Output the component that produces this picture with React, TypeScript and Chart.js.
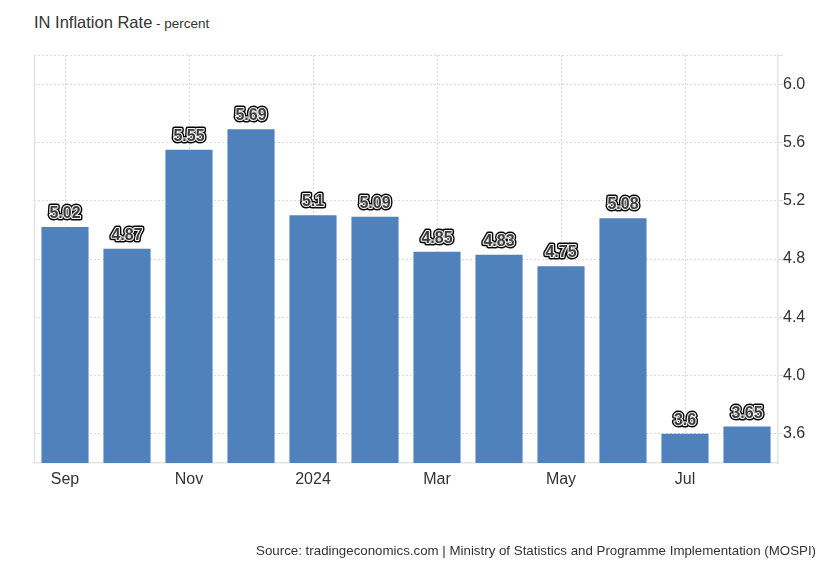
import React, { useEffect, useRef } from "react";
import { Chart, registerables } from "chart.js";

Chart.register(...registerables);

const months = ["Sep", "Oct", "Nov", "Dec", "2024", "Feb", "Mar", "Apr", "May", "Jun", "Jul", "Aug"];
const shownLabels = ["Sep", "", "Nov", "", "2024", "", "Mar", "", "May", "", "Jul", ""];
const inflation = [5.02, 4.87, 5.55, 5.69, 5.1, 5.09, 4.85, 4.83, 4.75, 5.08, 3.6, 3.65];
const valueLabels = ["5.02", "4.87", "5.55", "5.69", "5.1", "5.09", "4.85", "4.83", "4.75", "5.08", "3.6", "3.65"];
const yTicks = [3.6, 4.0, 4.4, 4.8, 5.2, 5.6, 6.0, 6.2];

const FONT = "'Liberation Sans', Arial, sans-serif";

const labelPlugin = {
  id: "valueLabels",
  afterDatasetsDraw(chart: any) {
    const ctx = chart.ctx;
    const meta = chart.getDatasetMeta(0);
    ctx.save();
    ctx.font = `bold 16px ${FONT}`;
    ctx.textAlign = "center";
    ctx.textBaseline = "alphabetic";
    ctx.lineJoin = "round";
    meta.data.forEach((bar: any, i: number) => {
      const x = bar.x;
      const y = bar.y - 9;
      const t = valueLabels[i];
      ctx.strokeStyle = "#000";
      ctx.lineWidth = 5;
      ctx.strokeText(t, x, y);
      ctx.strokeStyle = "#f4f4f4";
      ctx.lineWidth = 2.2;
      ctx.strokeText(t, x, y);
      ctx.fillStyle = "#3a3a3a";
      ctx.fillText(t, x, y);
    });
    ctx.restore();
  },
  beforeDatasetsDraw(chart: any) {
    const { ctx, chartArea } = chart;
    ctx.save();
    ctx.strokeStyle = "#e3e3e3";
    ctx.lineWidth = 1.5;
    ctx.beginPath();
    ctx.moveTo(chartArea.left + 0.5, chartArea.top);
    ctx.lineTo(chartArea.left + 0.5, chartArea.bottom);
    ctx.stroke();
    ctx.restore();
  },
};

export default function App() {
  const ref = useRef<HTMLCanvasElement>(null);

  useEffect(() => {
    if (!ref.current) return;
    const chart = new Chart(ref.current, {
      type: "bar",
      data: {
        labels: months,
        datasets: [
          {
            data: inflation,
            backgroundColor: "#4f81bd",
            borderWidth: 0,
            barPercentage: 0.76,
            categoryPercentage: 1,
          },
        ],
      },
      options: {
        animation: false,
        responsive: false,
        maintainAspectRatio: false,
        layout: { padding: { left: 34, top: 55, right: 0, bottom: 74 } },
        plugins: { legend: { display: false }, tooltip: { enabled: false }, title: { display: false } },
        scales: {
          x: {
            offset: true,
            afterFit: (s: any) => {
              s.height = 30;
            },
            grid: {
              offset: false,
              drawTicks: false,
              color: (c: any) => (c.index % 2 === 0 ? "#dcdcdc" : "rgba(0,0,0,0)"),
            } as any,
            border: { color: "#e3e3e3", width: 1.5, dash: [2, 2] } as any,
            ticks: {
              autoSkip: false,
              maxRotation: 0,
              padding: 7,
              color: "#333",
              font: { family: FONT, size: 16 },
              callback: (_v: any, i: number) => shownLabels[i],
            },
          },
          y: {
            position: "right",
            min: 3.4,
            max: 6.2,
            afterFit: (s: any) => {
              s.width = 52;
            },
            afterBuildTicks: (s: any) => {
              s.ticks = yTicks.map((v) => ({ value: v }));
            },
            grid: {
              color: "#dcdcdc",
              tickLength: 5,
              tickColor: "#dcdcdc",
            },
            border: { color: "#e3e3e3", width: 1.5, dash: [2, 2] } as any,
            ticks: {
              padding: 0,
              color: "#333",
              font: { family: FONT, size: 16 },
              callback: (v: any) => (Math.abs(v - 6.2) < 1e-6 ? "" : Number(v).toFixed(1)),
            },
          },
        },
      },
      plugins: [labelPlugin],
    });
    return () => chart.destroy();
  }, []);

  return (
    <div style={{ position: "absolute", left: 0, top: 0, width: 830, height: 567, background: "#fff", fontFamily: FONT }}>
      <div style={{ position: "absolute", left: 34, top: 13, color: "#333", whiteSpace: "nowrap" }}>
        <span style={{ fontSize: 16.5 }}>IN Inflation Rate</span>
        <span style={{ fontSize: 13.5 }}> - percent</span>
      </div>
      <canvas ref={ref} width={830} height={567} style={{ position: "absolute", left: 0, top: 0 }} />
      <div
        style={{
          position: "absolute",
          right: 14,
          top: 543,
          fontSize: 13.3,
          color: "#333",
          whiteSpace: "nowrap",
        }}
      >
        Source: tradingeconomics.com | Ministry of Statistics and Programme Implementation (MOSPI)
      </div>
    </div>
  );
}
